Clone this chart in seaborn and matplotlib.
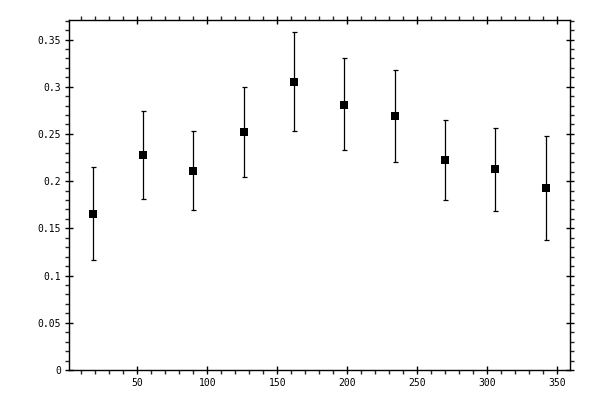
import matplotlib
matplotlib.use("Agg")
import matplotlib.pyplot as plt
import seaborn as sns
import pandas as pd
from matplotlib.ticker import MultipleLocator, FuncFormatter

angle = [18, 54, 90, 126, 162, 198, 234, 270, 306, 342]
value = [0.165, 0.228, 0.211, 0.252, 0.305, 0.281, 0.269, 0.222, 0.213, 0.193]
err_lo = [0.049, 0.047, 0.042, 0.048, 0.052, 0.048, 0.049, 0.042, 0.045, 0.055]
err_hi = [0.050, 0.046, 0.042, 0.048, 0.053, 0.049, 0.049, 0.043, 0.043, 0.055]
x_ticks = [50, 100, 150, 200, 250, 300, 350]
y_ticks = [0, 0.05, 0.1, 0.15, 0.2, 0.25, 0.3, 0.35]

df = pd.DataFrame({"angle": angle, "value": value})

sns.set_style("ticks")
plt.rcParams["font.family"] = ["DejaVu Sans Mono"]

fig = plt.figure(figsize=(6, 4), dpi=100)
ax = fig.add_axes([0.1158, 0.075, 0.8347, 0.8758])

ax.errorbar(angle, value, yerr=[err_lo, err_hi], fmt="none", ecolor="black",
            elinewidth=0.9, capsize=1.8, capthick=0.9, zorder=2)
sns.scatterplot(data=df, x="angle", y="value", marker="s", s=32, color="black",
                edgecolor="black", linewidth=0, ax=ax, zorder=3)

ax.set_xlim(1.5, 359.5)
ax.set_ylim(0, 0.371)
ax.set_xticks(x_ticks)
ax.set_yticks(y_ticks)
ax.yaxis.set_major_formatter(FuncFormatter(lambda v, p: "%g" % round(v, 3)))
ax.xaxis.set_minor_locator(MultipleLocator(10))
ax.yaxis.set_minor_locator(MultipleLocator(0.01))
ax.set_xlabel("")
ax.set_ylabel("")

for s in ax.spines.values():
    s.set_visible(True)
    s.set_linewidth(1.0)
    s.set_color("black")

ax.tick_params(which="major", direction="inout", length=6, width=1.0,
               top=True, right=True, labelsize=7, pad=3, colors="black")
ax.tick_params(which="minor", direction="out", length=3, width=1.0,
               top=True, right=True)

fig.savefig("out.png", dpi=100)
